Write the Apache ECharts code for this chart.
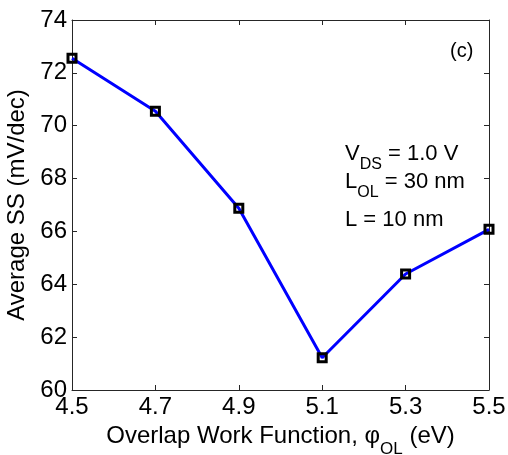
<!DOCTYPE html>
<html>
<head>
<meta charset="utf-8">
<script src="https://cdn.jsdelivr.net/npm/echarts@6/dist/echarts.min.js"></script>
<style>
  html, body { margin: 0; padding: 0; background: #fff; }
  #chart { width: 508px; height: 455px; }
</style>
</head>
<body>
<div id="chart"></div>
<script>
// Overlap work function (eV) vs. average subthreshold swing (mV/dec)
const workFunction = ['4.5', '4.7', '4.9', '5.1', '5.3', '5.5'];
const averageSS = [72.55, 70.55, 66.88, 61.22, 64.39, 66.08];
const yTicks = { min: 60, max: 74, step: 2 };

const FONT = "'Liberation Sans', Arial, Helvetica, sans-serif";
const AXIS_COLOR = '#262626';

const chart = echarts.init(document.getElementById('chart'), null, { renderer: 'canvas' });

const baseX = {
  type: 'category',
  data: workFunction,
  boundaryGap: false,
  axisLine: { show: true, onZero: false, lineStyle: { color: AXIS_COLOR, width: 1 } },
  axisTick: { show: true, inside: true, length: 5, alignWithLabel: true, lineStyle: { color: AXIS_COLOR } },
  splitLine: { show: false }
};
const baseY = {
  type: 'value',
  min: yTicks.min,
  max: yTicks.max,
  interval: yTicks.step,
  axisLine: { show: true, onZero: false, lineStyle: { color: AXIS_COLOR, width: 1 } },
  axisTick: { show: true, inside: true, length: 5, lineStyle: { color: AXIS_COLOR } },
  splitLine: { show: false }
};

const subRich = {
  a: { fontFamily: FONT, fontSize: 24, lineHeight: 24, color: '#000', verticalAlign: 'top' },
  s: { fontFamily: FONT, fontSize: 17, lineHeight: 17, color: '#000', verticalAlign: 'top', padding: [17, 0, 0, 0] }
};
const noteRich = {
  a: { fontFamily: FONT, fontSize: 22, lineHeight: 24, color: '#000', verticalAlign: 'top' },
  s: { fontFamily: FONT, fontSize: 16, lineHeight: 16, color: '#000', verticalAlign: 'top', padding: [14, 0, 0, 0] }
};

chart.setOption({
  animation: false,
  backgroundColor: '#fff',
  grid: { left: 72, right: 19, top: 20, bottom: 65, containLabel: false, outerBoundsMode: 'none' },
  xAxis: [
    Object.assign({}, baseX, {
      position: 'bottom',
      axisLabel: { show: true, margin: 5, color: '#000', fontFamily: FONT, fontSize: 24 },
      name: '{a|Overlap Work Function, φ}{s|OL}{a| (eV)}',
      nameLocation: 'middle',
      nameGap: 31,
      nameTextStyle: { rich: subRich }
    }),
    Object.assign({}, baseX, { position: 'top', axisLabel: { show: false } })
  ],
  yAxis: [
    Object.assign({}, baseY, {
      position: 'left',
      axisLabel: { show: true, margin: 5, color: '#000', fontFamily: FONT, fontSize: 24 },
      name: 'Average SS (mV/dec)',
      nameLocation: 'middle',
      nameGap: 42,
      nameTextStyle: { color: '#000', fontFamily: FONT, fontSize: 24 }
    }),
    Object.assign({}, baseY, { position: 'right', axisLabel: { show: false } })
  ],
  series: [{
    type: 'line',
    xAxisIndex: 0,
    yAxisIndex: 0,
    data: averageSS,
    lineStyle: { color: '#0000ff', width: 3 },
    symbol: 'rect',
    symbolSize: 8,
    itemStyle: { color: 'rgba(0,0,0,0)', borderColor: '#000', borderWidth: 3 },
    z: 3
  }],
  graphic: [
    { type: 'text', left: 450, top: 41, style: { text: '(c)', font: '20px ' + FONT, fill: '#000' } },
    { type: 'text', left: 345, top: 143, style: { text: '{a|V}{s|DS}{a| = 1.0 V}', rich: noteRich } },
    { type: 'text', left: 345, top: 171, style: { text: '{a|L}{s|OL}{a| = 30 nm}', rich: noteRich } },
    { type: 'text', left: 345, top: 209, style: { text: '{a|L = 10 nm}', rich: noteRich } }
  ]
});
</script>
</body>
</html>
